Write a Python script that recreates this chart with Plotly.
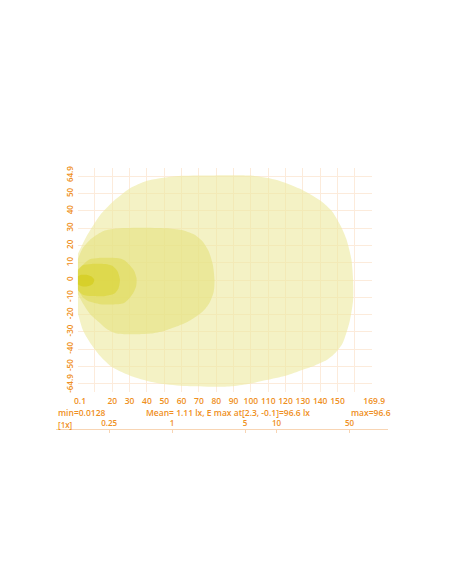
import plotly.graph_objects as go

# ---- data ----
NB = "\u00a0"
x_tickvals = [0.1, 20, 30, 40, 50, 60, 70, 80, 90, 100, 110, 120, 130, 140, 150, 169.9]
x_ticktext = [NB * 2 + "0.1", "20", "30", "40", "50", "60", "70", "80", "90", "100", "110", "120", "130", "140", "150", NB * 2 + "169.9"]
x_minor_grid = [10, 160]
y_tickvals = [-64.9, -50, -40, -30, -20, -10, 0, 10, 20, 30, 40, 50, 64.9]
y_ticktext = [NB * 7 + "-64.9", "-50", "-40", "-30", "-20", "-10", "0", "10", "20", "30", "40", "50", "64.9" + NB * 7]
y_minor_grid = [-60, 60]

# isolux contours (lx level -> polygon)
iso_levels = [0.25, 1, 5, 10, 50]
c025_x = [0.1, 5, 13, 20, 30, 40, 55, 70, 100, 115, 128, 140, 147, 152, 155, 158, 159, 159, 157, 153, 149, 143.7, 137, 130, 120, 109, 100, 89.7, 80, 61, 45, 32, 20, 13, 7, 3, 0.1]
c025_y = [15, 25, 37.6, 45, 53, 57.5, 60, 60.5, 60.5, 58, 53, 46, 39.6, 31, 24, 12, 0, -11.6, -24, -36.5, -42, -46.4, -49.5, -52, -55.5, -58, -60, -61.5, -61.8, -61.4, -59.5, -56, -50.5, -44, -36, -29, -19]
c1_x = [0.1, 3, 8, 15, 22, 35, 51, 60, 67, 72, 75.5, 78, 79, 78.5, 76, 72.5, 68.7, 63, 57, 50, 42, 32, 22.5, 17, 13, 7, 3, 0.1]
c1_y = [12, 18.5, 24, 28.4, 29.8, 30.3, 30, 29, 26.5, 22.5, 17, 9, 0, -7, -13.5, -18, -21, -24.5, -27, -29.5, -31, -31.5, -31, -28.5, -25, -19.5, -13.5, -8]
c5_x = [0.1, 3, 7, 12, 22.6, 27, 30, 32.5, 34, 33.8, 32, 29.5, 26.5, 20, 13, 6, 3, 0.1]
c5_y = [5, 8.7, 12, 12.8, 12.7, 11.5, 8.7, 5.5, 1, -3.5, -7.7, -11, -13.5, -14.2, -14, -12.2, -10, -5]
c10_x = [0.1, 3, 8, 16, 20, 23, 24.4, 23.5, 21, 16, 8, 3, 0.1]
c10_y = [6, 8.5, 9.3, 9.2, 8.2, 5, 0, -5, -8, -9.2, -9.3, -8.5, -6]
c50_x = [0.1, 2, 5, 8, 9.6, 8.5, 5, 2, 0.1]
c50_y = [2, 3, 3, 2, 0, -2.5, -3.8, -3.5, -2.5]

min_val = 0.0128
mean_val = 1.11
emax_pos = (2.3, -0.1)
emax_val = 96.6
scale_ticks = [0.25, 1, 5, 10, 50]
scale_text = ["0.25", "1", "5", "10", "50"]

fill_colors = ["rgba(237,233,158,0.6)", "rgba(229,225,125,0.6)", "rgba(223,218,90,0.6)",
               "rgba(218,211,52,0.6)", "rgba(210,201,20,0.6)"]

ORANGE = "#ef8f22"
GRID = "#fcebdb"
FONT = "Open Sans"

fig = go.Figure()
for xs, ys, col, lvl in zip([c025_x, c1_x, c5_x, c10_x, c50_x],
                            [c025_y, c1_y, c5_y, c10_y, c50_y],
                            fill_colors, iso_levels):
    fig.add_trace(go.Scatter(x=xs, y=ys, mode="lines", fill="toself", fillcolor=col,
                             line=dict(width=0, shape="spline", smoothing=0.7),
                             name=f"{lvl} lx", hoverinfo="skip", showlegend=False))

# invisible trace carrying the log scale axis
fig.add_trace(go.Scatter(x=scale_ticks, y=[0] * len(scale_ticks), xaxis="x2", yaxis="y2",
                         mode="markers", marker=dict(opacity=0), hoverinfo="skip", showlegend=False))

# geometry (paper spans 56..388 px horizontally, 168..440 px vertically)
L, R, T, B = 56, 64, 168, 144
W, H = 452, 584
pw, ph = W - L - R, H - T - B
def px_x(p):
    return (p - L) / pw
def px_y(p):
    return (H - B - p) / ph

tickfont = dict(family=FONT, size=8.5, color=ORANGE, weight=600)
scalefont = dict(family=FONT, size=8, color=ORANGE, weight=600)

fig.update_layout(
    width=W, height=H, margin=dict(l=L, r=R, t=T, b=B, autoexpand=False),
    paper_bgcolor="white", plot_bgcolor="white",
    xaxis=dict(range=[0.1, 169.9], domain=[px_x(77.8), px_x(372)], anchor="y", automargin=False,
               tickvals=x_tickvals, ticktext=x_ticktext,
               showgrid=True, gridcolor=GRID, gridwidth=1, zeroline=False, showline=False,
               ticks="", tickfont=tickfont, ticklabelstandoff=2,
               minor=dict(tickvals=x_minor_grid, showgrid=True, gridcolor=GRID, ticks="")),
    yaxis=dict(range=[-64.9, 64.9], domain=[px_y(392), 1], anchor="x", automargin=False,
               tickvals=y_tickvals, ticktext=y_ticktext,
               showgrid=True, gridcolor=GRID, gridwidth=1, zeroline=False, showline=False,
               ticks="", tickangle=-90, tickfont=dict(family=FONT, size=8, color=ORANGE, weight=600),
               ticklabelstandoff=2,
               minor=dict(tickvals=y_minor_grid, showgrid=True, gridcolor=GRID, ticks="")),
    xaxis2=dict(type="log", range=[-1.110, 2.067], domain=[0, 1], anchor="y2", automargin=False,
                side="top", tickvals=scale_ticks, ticktext=scale_text, showgrid=False, zeroline=False,
                showline=True, linecolor="#f8d5b4", linewidth=1, ticks="inside", ticklen=3,
                tickcolor="#f8d5b4", tickfont=scalefont, ticklabelstandoff=0),
    yaxis2=dict(domain=[0, px_y(430)], anchor="x2", visible=False, range=[-1, 1], automargin=False),
    showlegend=False,
)

ann_font = dict(family=FONT, size=8.5, color=ORANGE, weight=600)
row_y = px_y(412.5)
fig.add_annotation(x=0, y=row_y, xref="paper", yref="paper", xanchor="left", yanchor="middle",
                   text=f"min={min_val}", showarrow=False, font=ann_font)
fig.add_annotation(x=px_x(228), y=row_y, xref="paper", yref="paper", xanchor="center", yanchor="middle",
                   text=f"Mean= {mean_val} lx, E max at[{emax_pos[0]}, {emax_pos[1]}]={emax_val} lx",
                   showarrow=False, font=ann_font)
fig.add_annotation(x=px_x(393), y=row_y, xref="paper", yref="paper", xanchor="right", yanchor="middle",
                   text=f"max={emax_val}", showarrow=False, font=ann_font)
fig.add_annotation(x=0, y=px_y(424), xref="paper", yref="paper", xanchor="left", yanchor="middle",
                   text="[1x]", showarrow=False, font=scalefont)

fig.write_html("out.html", post_script="document.body.style.margin='0px';",
               config={"displayModeBar": False})
